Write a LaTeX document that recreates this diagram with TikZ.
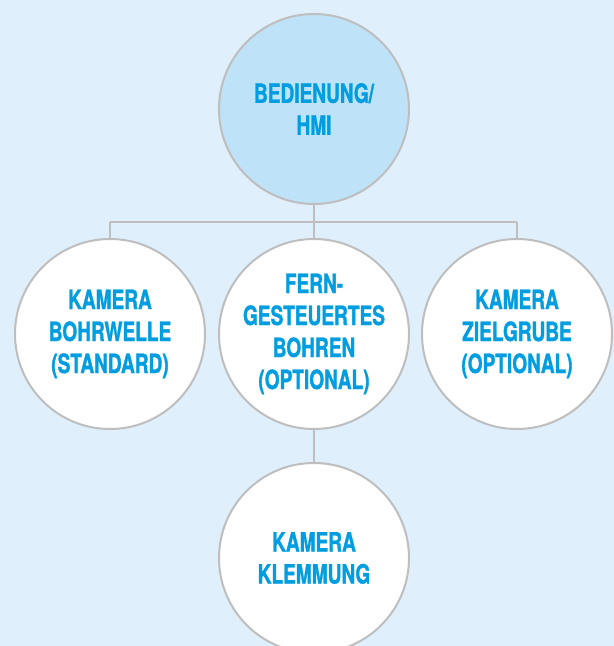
\documentclass[tikz,border=0pt]{standalone}
\usepackage{fontspec}
\setmainfont{TeX Gyre Heros}[FakeStretch=0.72,FakeBold=1.2]
\definecolor{bgblue}{RGB}{223,240,252}
\definecolor{topfill}{RGB}{190,227,248}
\definecolor{txtblue}{RGB}{0,157,224}
\definecolor{linegray}{RGB}{190,190,190}
\tikzset{
  bubble/.style={circle, draw=linegray, line width=2bp, fill=white, minimum size=190bp, inner sep=0pt,
    align=center, text=txtblue, font=\fontsize{26.5bp}{32bp}\selectfont\bfseries},
  conn/.style={draw=linegray, line width=2bp}
}
\begin{document}
\begin{tikzpicture}[x=1bp,y=-1bp]
\useasboundingbox (0,0) rectangle (614,646);
\clip (0,0) rectangle (614,646);
\fill[bgblue] (0,0) rectangle (614,646);
\coordinate (hl) at (110,222);
\coordinate (hm) at (314,222);
\coordinate (hr) at (517,222);
\draw[conn] (314,109) -- (hm);
\draw[conn] (hl) -- (hr);
\draw[conn] (hl) -- (110,334);
\draw[conn] (hm) -- (314,334);
\draw[conn] (hr) -- (517,334);
\draw[conn] (314,334) -- (314,558);
\node[bubble, fill=topfill] (top) at (314,109) {BEDIENUNG/\\HMI};
\node[bubble] (left) at (110,334) {KAMERA\\BOHRWELLE\\(STANDARD)};
\node[bubble] (mid) at (314,334) {FERN-\\GESTEUERTES\\BOHREN\\(OPTIONAL)};
\node[bubble] (right) at (517,334) {KAMERA\\ZIELGRUBE\\(OPTIONAL)};
\node[bubble] (bot) at (314,558) {KAMERA\\KLEMMUNG};
\end{tikzpicture}
\end{document}
